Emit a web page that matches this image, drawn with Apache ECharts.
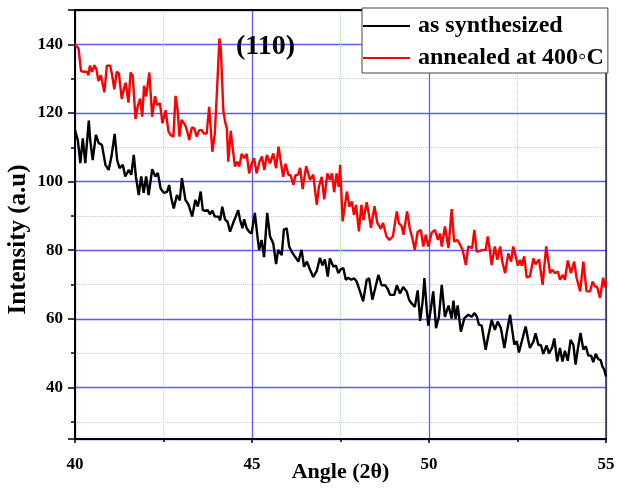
<!DOCTYPE html>
<html>
<head>
<meta charset="utf-8">
<script src="https://cdn.jsdelivr.net/npm/echarts@6/dist/echarts.min.js"></script>
<style>
  html, body { margin: 0; padding: 0; background: #fff; }
  #main { width: 618px; height: 489px; }
</style>
</head>
<body>
<div id="main"></div>
<script>
// angle (2 theta) and intensity
var xBlack = [40.00,40.03,40.08,40.15,40.22,40.29,40.39,40.43,40.50,40.59,40.67,40.76,40.86,40.95,41.03,41.12,41.19,41.26,41.35,41.42,41.52,41.59,41.66,41.72,41.80,41.87,41.94,42.01,42.08,42.18,42.27,42.34,42.42,42.51,42.60,42.66,42.72,42.79,42.88,42.96,43.02,43.12,43.21,43.31,43.40,43.47,43.55,43.61,43.68,43.75,43.81,43.88,43.95,44.05,44.10,44.16,44.24,44.31,44.38,44.47,44.54,44.61,44.66,44.73,44.78,44.85,44.92,44.99,45.08,45.16,45.20,45.27,45.34,45.43,45.51,45.60,45.68,45.74,45.84,45.90,45.98,46.05,46.12,46.21,46.31,46.40,46.47,46.55,46.64,46.73,46.83,46.92,46.99,47.06,47.14,47.20,47.30,47.37,47.44,47.51,47.58,47.65,47.72,47.80,47.89,47.96,48.05,48.14,48.24,48.31,48.40,48.47,48.57,48.66,48.76,48.83,48.90,49.02,49.09,49.18,49.27,49.37,49.44,49.51,49.60,49.68,49.75,49.82,49.87,49.93,49.98,50.06,50.12,50.20,50.28,50.36,50.45,50.55,50.64,50.69,50.75,50.81,50.90,51.00,51.11,51.21,51.28,51.35,51.41,51.49,51.60,51.67,51.77,51.86,51.94,52.03,52.13,52.19,52.29,52.35,52.41,52.48,52.54,52.62,52.73,52.80,52.85,52.95,53.01,53.09,53.16,53.23,53.32,53.39,53.48,53.54,53.62,53.70,53.77,53.84,53.92,54.00,54.08,54.14,54.21,54.28,54.36,54.43,54.50,54.58,54.64,54.71,54.78,54.85,54.90,54.95,55.00];
var yBlack = [115,115.5,112.1,105.4,112.6,105.4,117.8,112.1,106.3,113.6,111.2,110.7,104.9,103.4,107.3,113.9,106.3,103.9,104.9,101.5,103.4,102,107.8,101.5,96.1,101.5,96.7,101.5,96.1,103.6,101.5,102.5,98,96.7,97,99,95.2,92.2,96.1,94.5,101,94.7,93.2,89.8,94.7,92.7,97.1,91.7,91.5,91.7,90.5,91.5,89.8,89.8,88.7,92.7,88.9,88.3,85.4,88,89.8,91.7,89,86.4,89,86.4,85.4,84.9,90.9,83.5,80.1,83,78,90.9,84,82,76,80.1,78.6,86,86.4,81.1,79.6,78.2,76.7,80.1,75.2,76.7,74.3,72.2,74,77.8,75.6,77.3,72.3,77.6,75.2,75.5,73.3,74.5,74.8,71.4,72,71.4,71.8,70.8,68,65.1,71.4,71.8,65.6,68.5,72.8,69.8,69.8,68.8,67,67,69.8,67.4,69.3,68,65.5,64.5,63.5,68.3,59.4,65,71.9,63.5,58,63.5,68,57.3,60.6,69.9,60.6,63.9,60.1,65.3,60,63.9,56.3,60.2,61.2,60.6,61.7,60.7,58.3,58,51,54.8,59.7,56.8,59.2,57.3,51.5,55.6,61.2,56.8,52.5,53.5,50.2,53.4,57.8,54,51.5,53.4,55.8,52.4,52.4,49.8,52.3,49.9,51.7,54.3,47.6,51.5,47.6,50.7,47.8,53.9,52.4,46.7,51.6,55.9,51.1,52,49.3,49.3,47.4,49.8,48.3,48,46.1,45.2,43.2];

var xRed = [40.00,40.10,40.17,40.25,40.34,40.38,40.42,40.48,40.55,40.61,40.66,40.73,40.83,40.90,40.99,41.05,41.11,41.18,41.24,41.32,41.38,41.43,41.51,41.57,41.63,41.71,41.77,41.84,41.90,41.95,42.01,42.10,42.18,42.26,42.32,42.40,42.47,42.56,42.64,42.70,42.78,42.84,42.90,42.95,43.01,43.11,43.17,43.23,43.30,43.37,43.44,43.51,43.58,43.64,43.72,43.79,43.88,43.95,44.02,44.08,44.12,44.19,44.24,44.29,44.33,44.40,44.45,44.52,44.58,44.64,44.71,44.78,44.85,44.92,44.99,45.06,45.13,45.21,45.28,45.35,45.42,45.51,45.60,45.68,45.75,45.82,45.88,45.95,46.03,46.09,46.17,46.23,46.30,46.36,46.43,46.53,46.64,46.73,46.83,46.89,46.97,47.04,47.13,47.20,47.26,47.32,47.39,47.45,47.49,47.56,47.68,47.75,47.82,47.88,47.94,48.02,48.09,48.15,48.24,48.31,48.36,48.46,48.54,48.64,48.70,48.80,48.88,48.98,49.09,49.15,49.23,49.28,49.38,49.46,49.53,49.60,49.68,49.77,49.84,49.91,49.98,50.08,50.17,50.25,50.31,50.36,50.45,50.55,50.64,50.71,50.80,50.88,50.95,51.04,51.11,51.16,51.22,51.28,51.35,51.44,51.53,51.60,51.66,51.72,51.77,51.86,51.93,52.01,52.07,52.15,52.24,52.32,52.38,52.44,52.51,52.57,52.62,52.69,52.76,52.85,52.95,53.01,53.11,53.21,53.31,53.42,53.48,53.56,53.64,53.70,53.78,53.84,53.92,54.01,54.10,54.17,54.27,54.36,54.45,54.55,54.62,54.69,54.75,54.83,54.92,54.97,55.00];
var yRed = [140,138.8,132.2,132,132,131,133.8,132,133.9,132.6,129.3,131,126,133.8,133.8,131,126.9,132,131.5,124.1,127,128.8,123,131.8,130.8,118.2,121.9,124.2,118.9,127.9,124.8,131.8,118.9,124.9,122.3,122.8,117,120.8,114.6,113.6,113.1,125,120.8,113.1,118,116.5,114.6,112.1,115.8,115.5,113.1,115,115,114,114,121.8,108.7,114,128.5,141.7,138.5,120.8,117.4,115.5,105.8,114.8,110.1,104.4,105.8,104.4,108.1,106.8,108.1,102.4,105.2,106.8,102.4,105.8,107.3,103.4,107.8,105.3,108.2,103.9,110.2,105.3,101.4,105.2,101.9,101.9,99,101.9,102,104,97.8,104.5,100.5,102,93.2,98.5,101.4,94.8,102.4,100.5,102.4,96.9,102.4,98.5,104.9,88.4,97.1,92.7,94.2,90.3,93.2,85.5,93.2,88.8,94,90,86.5,92.8,88,86.2,88,84,83,84,91.3,87.8,87,84.5,91.3,86.2,83.5,80.1,85.4,85.9,81.1,84.5,81.1,85.2,85.9,83,84.9,81.1,86.9,80.6,92,82.5,83,81.6,80.1,75.7,81.1,80.6,80.6,85.9,79.6,79.8,80.1,80.1,84,80,75.7,81.1,77.2,81.1,76.7,73.3,79.1,76.7,81.1,78.6,75.5,77.2,75.5,78.2,72.1,72.4,77.6,75.9,77.3,69.9,81.1,73.3,74.3,73.3,73.8,71.4,72.8,71.4,77,73.3,76.7,71.9,68,76.7,68,68,70.9,69.5,69.3,66.1,72,69.1,71];

var seriesNames = ['as synthesized', 'annealed at 400\u25E6C'];
var peakLabel = '(110)';

var serif = '"Liberation Serif", "Times New Roman", serif';

function pairs(xs, ys) {
  var out = [];
  for (var i = 0; i < xs.length; i++) out.push([xs[i], ys[i]]);
  return out;
}

var chart = echarts.init(document.getElementById('main'), null, { renderer: 'canvas' });

var majorGrid = { show: true, lineStyle: { color: '#5b5bff', width: 1.3 } };
var minorGrid = { show: true, lineStyle: { color: '#9eea9e', width: 1, type: 'dotted' } };

var option = {
  backgroundColor: '#fff',
  animation: false,
  grid: { left: 75, right: 12, top: 10, bottom: 50, containLabel: false, outerBoundsMode: 'none' },
  legend: {
    orient: 'vertical',
    left: 362,
    top: 8,
    padding: [6, 4, 3, 1],
    itemGap: 8,
    itemWidth: 47,
    itemHeight: 2,
    icon: 'rect',
    backgroundColor: '#fff',
    borderColor: '#444',
    borderWidth: 1,
    textStyle: { fontFamily: serif, fontWeight: 'bold', fontSize: 24, color: '#000', padding: [0, 0, 0, 3] },
    data: seriesNames
  },
  xAxis: [{
    type: 'value',
    min: 40, max: 55, interval: 5,
    name: 'Angle (2\u03B8)',
    nameLocation: 'middle',
    nameGap: 22,
    nameMoveOverlap: false,
    nameTextStyle: { fontFamily: serif, fontWeight: 'bold', fontSize: 22, color: '#000' },
    axisLine: { show: true, lineStyle: { color: '#000', width: 2 } },
    axisTick: { show: true, length: 4, lineStyle: { color: '#000', width: 1.5 } },
    minorTick: { show: true, splitNumber: 2, length: 3, lineStyle: { color: '#000', width: 1.5 } },
    axisLabel: { margin: 17, fontFamily: serif, fontWeight: 'bold', fontSize: 17, color: '#000' },
    splitLine: majorGrid,
    minorSplitLine: minorGrid
  }, {
    type: 'value', position: 'top', min: 40, max: 55,
    axisLine: { show: true, lineStyle: { color: '#000', width: 2 } },
    axisTick: { show: false }, axisLabel: { show: false }, splitLine: { show: false }
  }],
  yAxis: [{
    type: 'value',
    min: 25, max: 150, splitNumber: 6,
    name: 'Intensity (a.u)',
    nameLocation: 'middle',
    nameGap: 44,
    nameMoveOverlap: false,
    nameTextStyle: { fontFamily: serif, fontWeight: 'bold', fontSize: 25, color: '#000', padding: [0, 30, 0, 0] },
    axisLine: { show: true, lineStyle: { color: '#000', width: 2 } },
    axisTick: { show: true, length: 7, lineStyle: { color: '#000', width: 1.5 } },
    minorTick: { show: true, splitNumber: 2, length: 4, lineStyle: { color: '#000', width: 1.5 } },
    axisLabel: {
      margin: 12, fontFamily: serif, fontWeight: 'bold', fontSize: 17, color: '#000',
      formatter: function (v) { return v % 20 === 0 ? String(v) : ''; }
    },
    splitLine: majorGrid,
    minorSplitLine: minorGrid
  }, {
    type: 'value', position: 'right', min: 25, max: 150,
    axisLine: { show: true, lineStyle: { color: '#333', width: 1.5 } },
    axisTick: { show: false }, axisLabel: { show: false }, splitLine: { show: false }
  }],
  graphic: [{
    type: 'text',
    left: 236,
    top: 33,
    z: 100,
    style: { text: peakLabel, font: 'bold 28px ' + serif, fill: '#000' }
  }],
  series: [{
    name: seriesNames[0],
    type: 'line',
    symbol: 'none',
    color: '#000',
    lineStyle: { color: '#000', width: 2.4 },
    data: pairs(xBlack, yBlack)
  }, {
    name: seriesNames[1],
    type: 'line',
    symbol: 'none',
    color: '#ff0000',
    lineStyle: { color: '#ff0000', width: 2.4 },
    data: pairs(xRed, yRed)
  }]
};

chart.setOption(option);
</script>
</body>
</html>
